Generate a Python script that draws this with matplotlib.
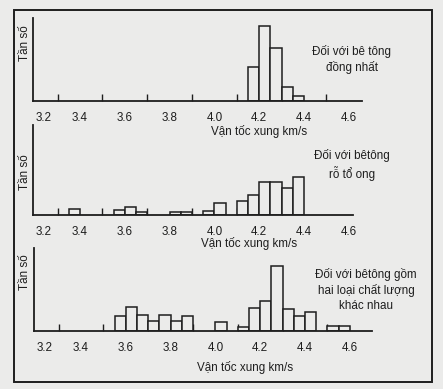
import matplotlib
matplotlib.use("Agg")
import matplotlib.pyplot as plt
from matplotlib.patches import Rectangle

plt.rcParams['font.family'] = ['Liberation Sans', 'DejaVu Sans']

# ---------------- data ----------------
bin_width = 0.05
p1_bins = [4.15, 4.20, 4.25, 4.30, 4.35]
p1_freq = [34, 75, 53, 14, 5]

p2_bins = [3.35, 3.55, 3.60, 3.65, 3.80, 3.85, 3.95, 4.00, 4.10, 4.15, 4.20, 4.25, 4.30, 4.35]
p2_freq = [6, 5, 8, 3, 3, 3, 4, 12, 14, 20, 33, 33, 27, 38]

p3_bins = [3.55, 3.60, 3.65, 3.70, 3.75, 3.80, 3.85, 4.00, 4.10, 4.15, 4.20, 4.25, 4.30, 4.35, 4.40, 4.50, 4.55]
p3_freq = [15, 24, 16, 10, 16, 10, 15, 9, 4, 23, 30, 65, 22, 15, 19, 5, 5]

major_ticks = [3.2, 3.4, 3.6, 3.8, 4.0, 4.2, 4.4, 4.6]
major_labels = ["3.2", "3.4", "3.6", "3.8", "4.0", "4.2", "4.4", "4.6"]
minor_ticks_full = [3.3, 3.4, 3.5, 3.6, 3.7, 3.8, 3.9, 4.0, 4.1, 4.2, 4.3, 4.4, 4.5, 4.6]
minor_ticks_p2 = [3.3, 3.4, 3.5, 3.6, 3.7, 3.8, 3.9, 4.0, 4.1, 4.2, 4.3, 4.4]

ylabel = "Tần số"
xlabel = "Vận tốc xung km/s"
notes = ["Đối với bê tông\nđồng nhất",
         "Đối với bêtông\nrỗ tổ ong",
         "Đối với bêtông gồm\nhai loại chất lượng\nkhác nhau"]

# ---------------- style ----------------
W, H = 443, 389
bg = '#ebebea'
ink = '#1e1e1e'
fs_tick = 8.4
fs_text = 8.4

fig = plt.figure(figsize=(W / 100, H / 100), dpi=100, facecolor=bg)

def fx(px):
    return px / W

def fy(py):
    return 1 - py / H

# outer frame
fig.patches.append(Rectangle((fx(13.5), fy(381.5)), fx(431.5) - fx(13.5), fy(10) - fy(381.5),
                             transform=fig.transFigure, fill=False, edgecolor=ink, lw=1.4))

scale = 224.0  # pixels per km/s

panels = [
    # bins, freq, left_px, xmin, xmax, base_px, top_px, minor, xlabel_pos, ylabel_pos, note_pos
    (p1_bins, p1_freq, 33, 3.19, 4.66, 101, 18, minor_ticks_full, (259, 132), (25, 43), (352, 59)),
    (p2_bins, p2_freq, 33, 3.19, 4.62, 215, 125, minor_ticks_p2, (249, 244), (25, 172), (352, 165)),
    (p3_bins, p3_freq, 34, 3.19, 4.70, 331, 248, minor_ticks_full, (245, 368), (25, 272), (366, 290)),
]

for i, (bins, freq, lpx, xmin, xmax, base, top, minor, xlp, ylp, ntp) in enumerate(panels):
    wpx = (xmax - xmin) * scale
    ax = fig.add_axes([fx(lpx), fy(base), wpx / W, (base - top) / H])
    ax.set_facecolor('none')
    ax.bar(bins, freq, width=bin_width, align='edge', color=bg, edgecolor=ink, linewidth=1.1, zorder=2)
    ax.set_xlim(xmin, xmax)
    ax.set_ylim(0, base - top)
    for s in ['top', 'right']:
        ax.spines[s].set_visible(False)
    for s in ['left', 'bottom']:
        ax.spines[s].set_color(ink)
        ax.spines[s].set_linewidth(1.3)
        ax.spines[s].set_zorder(3)
    ax.set_yticks([])
    ax.set_xticks(major_ticks)
    ax.set_xticklabels(major_labels, fontsize=fs_tick, color=ink)
    ax.set_xticks(minor, minor=True)
    ax.tick_params(axis='x', which='major', length=0, pad=8.0)
    ax.tick_params(axis='x', which='minor', direction='in', length=5, width=1.0, color=ink)
    ax.get_xticklabels()[0].set_ha('left')

    fig.text(fx(xlp[0]), fy(xlp[1]), xlabel, ha='center', va='center', fontsize=fs_text, color=ink)
    fig.text(fx(ylp[0]), fy(ylp[1]), ylabel, ha='center', va='center', rotation=90, fontsize=fs_text, color=ink)
    fig.text(fx(ntp[0]), fy(ntp[1]), notes[i], ha='center', va='center', fontsize=fs_text,
             color=ink, linespacing=1.3)

fig.savefig("out.png", dpi=100, facecolor=bg)
